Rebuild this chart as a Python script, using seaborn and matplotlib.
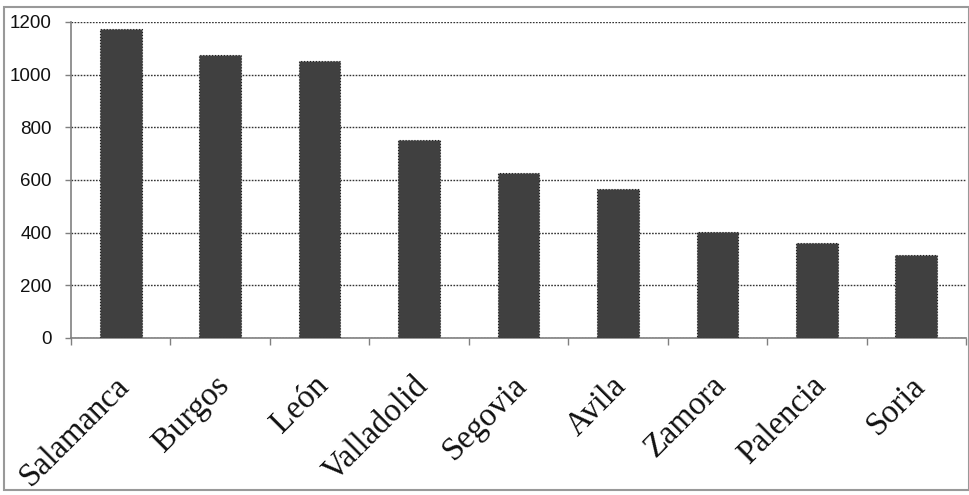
import matplotlib
matplotlib.use("Agg")
import matplotlib.pyplot as plt
import matplotlib.transforms as mtransforms
import seaborn as sns
import pandas as pd
import numpy as np
from matplotlib.patches import Rectangle
from matplotlib.ticker import FixedLocator

provinces = ["Salamanca", "Burgos", "León", "Valladolid", "Segovia",
             "Avila", "Zamora", "Palencia", "Soria"]
values = [1172, 1075, 1052, 750, 628, 565, 401, 360, 315]
y_ticks = [0, 200, 400, 600, 800, 1000, 1200]

df = pd.DataFrame({"provincia": provinces, "valor": values})

sns.set_theme(style="white")
plt.rcParams['font.family'] = ['Liberation Sans', 'DejaVu Sans']

W, H = 970, 495
fig = plt.figure(figsize=(W / 100, H / 100), dpi=100)
fig.patch.set_facecolor("white")

# axes in pixel coordinates
left, right, top, bottom = 71, 966, 22, 338
ax = fig.add_axes([left / W, 1 - bottom / H, (right - left) / W, (bottom - top) / H])

sns.barplot(data=df, x="provincia", y="valor", ax=ax, color="#404040",
            width=0.42, edgecolor="#202020", linewidth=0.8, linestyle=":",
            saturation=1, zorder=3)

ax.set_xlim(-0.5, len(provinces) - 0.5)
ax.set_ylim(0, 1200)
ax.set_yticks(y_ticks)
ax.set_yticklabels([str(v) for v in y_ticks], fontsize=13.5, color="#111111")
ax.set_xlabel("")
ax.set_ylabel("")

ax.yaxis.grid(True, linestyle=(0, (1.2, 1.0)), color="#333333", linewidth=1.0, zorder=0)
ax.xaxis.grid(False)
ax.set_axisbelow(True)

for s in ["top", "right"]:
    ax.spines[s].set_visible(False)
for s in ["left", "bottom"]:
    ax.spines[s].set_color("#808080")
    ax.spines[s].set_linewidth(1.2)

ax.tick_params(axis="y", which="major", direction="out", length=4, width=1,
               color="#808080", pad=10, left=True)
# category boundary ticks
ax.xaxis.set_minor_locator(FixedLocator(np.arange(-0.5, len(provinces), 1.0)))
ax.tick_params(axis="x", which="minor", direction="out", length=5, width=1,
               color="#808080", bottom=True)
ax.tick_params(axis="x", which="major", length=0, pad=31)

labels = ax.set_xticklabels(provinces)
offset = mtransforms.ScaledTranslation(4 / 100, 0, fig.dpi_scale_trans)
for lab in labels:
    lab.set_fontfamily(["Liberation Serif", "DejaVu Serif"])
    lab.set_fontsize(23.5)
    lab.set_color("#111111")
    lab.set_rotation(45)
    lab.set_ha("right")
    lab.set_va("center")
    lab.set_rotation_mode("anchor")
    lab.set_transform(lab.get_transform() + offset)

# figure border
fig.patches.append(Rectangle((4 / W, 1 - 490 / H), (969 - 4) / W, (490 - 7) / H,
                             transform=fig.transFigure, fill=False,
                             edgecolor="#999999", linewidth=1.5, zorder=0))

fig.savefig("out.png", dpi=100, facecolor="white")
